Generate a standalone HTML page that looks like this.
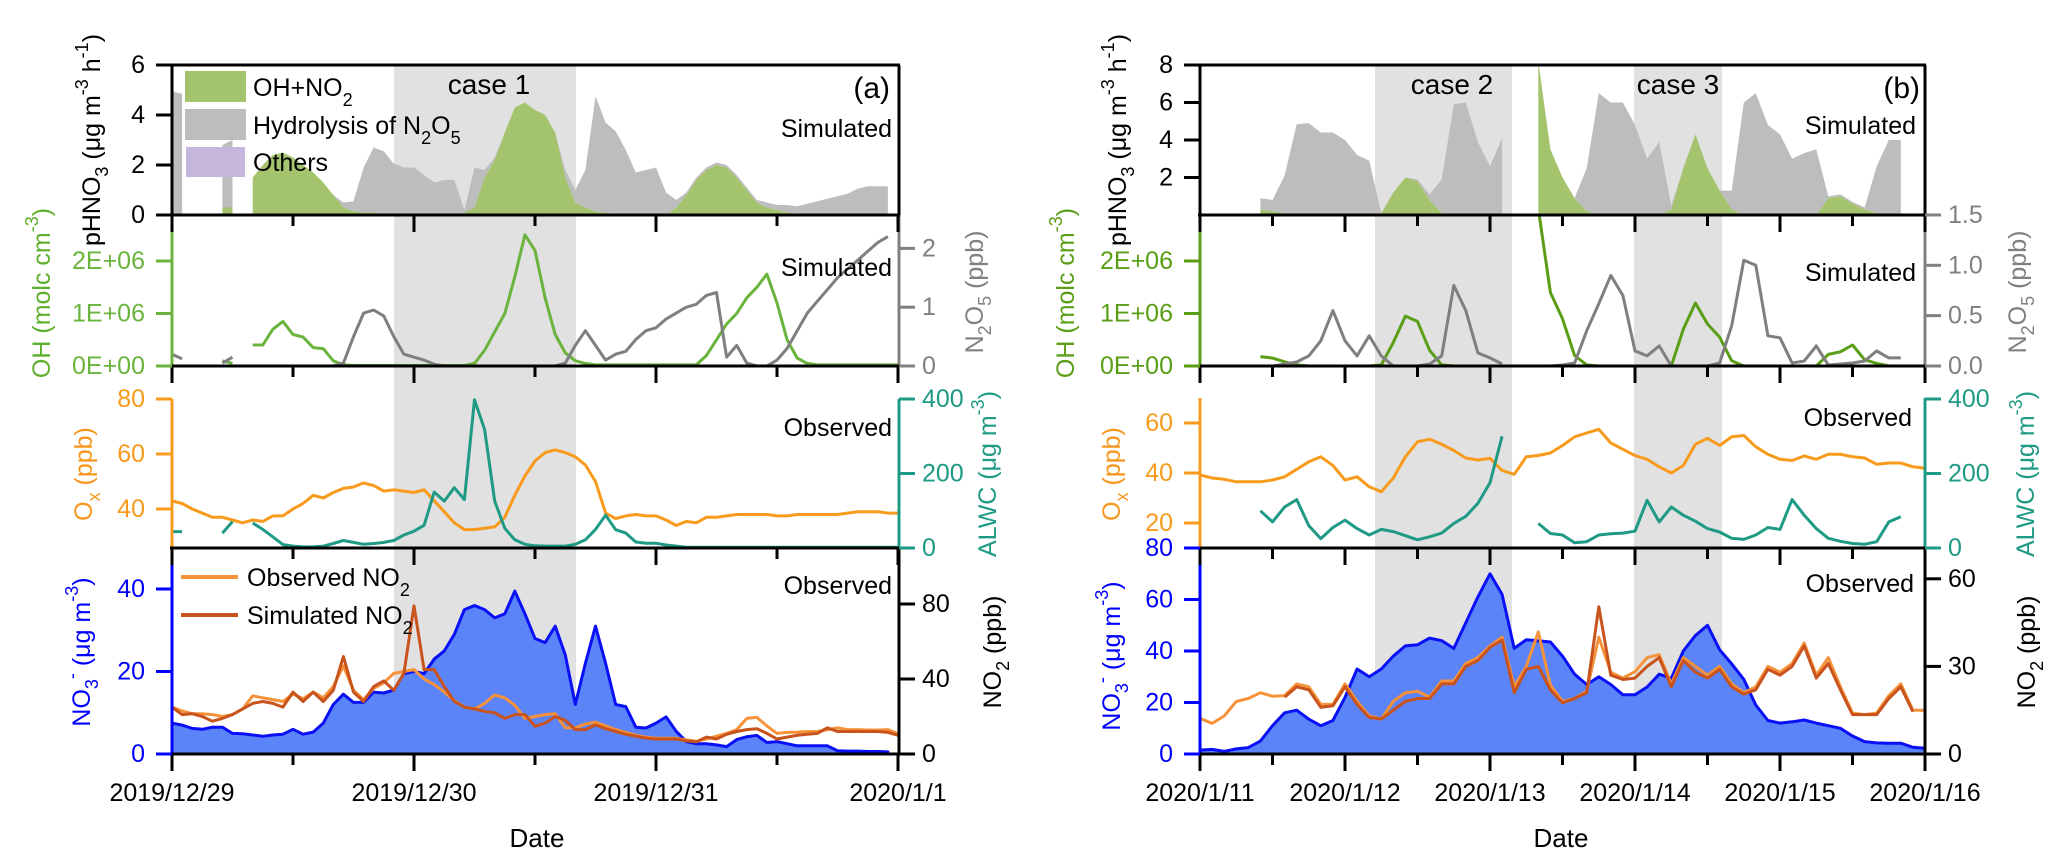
<!DOCTYPE html>
<html><head><meta charset="utf-8"><title>pHNO3 budget and observations</title>
<style>
html,body{margin:0;padding:0;background:#fff;}
svg{display:block;font-family:"Liberation Sans",Arial,sans-serif;}
</style></head>
<body>
<svg id="plot" xmlns="http://www.w3.org/2000/svg" width="2067" height="867" viewBox="0 0 2067 867">
<defs>
<clipPath id="cL1"><rect x="172" y="65" width="727" height="150"/></clipPath>
<clipPath id="cL2"><rect x="172" y="215" width="727" height="151"/></clipPath>
<clipPath id="cL3"><rect x="172" y="366" width="727" height="182"/></clipPath>
<clipPath id="cL4"><rect x="172" y="548" width="727" height="206"/></clipPath>
<clipPath id="cR1"><rect x="1200" y="65" width="726" height="150"/></clipPath>
<clipPath id="cR2"><rect x="1200" y="215" width="726" height="151"/></clipPath>
<clipPath id="cR3"><rect x="1200" y="366" width="726" height="182"/></clipPath>
<clipPath id="cR4"><rect x="1200" y="548" width="726" height="206"/></clipPath>
</defs>
<rect x="394" y="65" width="182" height="689" fill="#e1e1e1"/>
<rect x="1375" y="65" width="137" height="689" fill="#e1e1e1"/>
<rect x="1634" y="65" width="88" height="689" fill="#e1e1e1"/>
<g id="marks"></g>
<g id="axes"></g>
<g font-size="25" fill="#000">
<text x="489" y="94" font-size="28" text-anchor="middle">case 1</text>
<text x="1452" y="94" font-size="28" text-anchor="middle">case 2</text>
<text x="1678" y="94" font-size="28" text-anchor="middle">case 3</text>
<text x="890" y="98" font-size="30" text-anchor="end">(a)</text>
<text x="1920" y="98" font-size="30" text-anchor="end">(b)</text>
<text x="892" y="137" text-anchor="end">Simulated</text>
<text x="892" y="276" text-anchor="end">Simulated</text>
<text x="892" y="436" text-anchor="end">Observed</text>
<text x="892" y="594" text-anchor="end">Observed</text>
<text x="1916" y="134" text-anchor="end">Simulated</text>
<text x="1916" y="281" text-anchor="end">Simulated</text>
<text x="1912" y="426" text-anchor="end">Observed</text>
<text x="1914" y="592" text-anchor="end">Observed</text>

<rect x="185" y="71" width="61" height="31" fill="#a3c46d"/>
<rect x="185" y="109" width="61" height="31" fill="#bdbdbd"/>
<rect x="186" y="147" width="59" height="30" fill="#c5b6dc"/>
<text x="253" y="96">OH+NO<tspan baseline-shift="sub" font-size="18">2</tspan></text>
<text x="253" y="134">Hydrolysis of N<tspan baseline-shift="sub" font-size="18">2</tspan><tspan>O</tspan><tspan baseline-shift="sub" font-size="18">5</tspan></text>
<text x="253" y="171">Others</text>

<line x1="181" y1="577" x2="238" y2="577" stroke="#f5923a" stroke-width="4"/>
<line x1="181" y1="615" x2="238" y2="615" stroke="#c8531c" stroke-width="4"/>
<text x="247" y="586">Observed NO<tspan baseline-shift="sub" font-size="18">2</tspan></text>
<text x="247" y="624">Simulated NO<tspan baseline-shift="sub" font-size="18">2</tspan></text>

<text transform="translate(92,140) rotate(-90)" text-anchor="middle" dominant-baseline="central">pHNO<tspan baseline-shift="sub" font-size="18">3</tspan><tspan> (μg m</tspan><tspan baseline-shift="super" font-size="18">-3</tspan><tspan> h</tspan><tspan baseline-shift="super" font-size="18">-1</tspan><tspan>)</tspan></text>
<text transform="translate(42,293) rotate(-90)" text-anchor="middle" dominant-baseline="central" fill="#5db02d">OH (molc cm<tspan baseline-shift="super" font-size="18">-3</tspan><tspan>)</tspan></text>
<text transform="translate(84,474) rotate(-90)" text-anchor="middle" dominant-baseline="central" fill="#f7961c">O<tspan baseline-shift="sub" font-size="18">x</tspan><tspan> (ppb)</tspan></text>
<text transform="translate(82,652) rotate(-90)" text-anchor="middle" dominant-baseline="central" fill="#0000ff">NO<tspan baseline-shift="sub" font-size="18">3</tspan><tspan baseline-shift="super" font-size="18">-</tspan><tspan> (μg m</tspan><tspan baseline-shift="super" font-size="18">-3</tspan><tspan>)</tspan></text>
<text transform="translate(975,292) rotate(-90)" text-anchor="middle" dominant-baseline="central" fill="#808080">N<tspan baseline-shift="sub" font-size="18">2</tspan><tspan>O</tspan><tspan baseline-shift="sub" font-size="18">5</tspan><tspan> (ppb)</tspan></text>
<text transform="translate(988,474) rotate(-90)" text-anchor="middle" dominant-baseline="central" fill="#1f9a85">ALWC (μg m<tspan baseline-shift="super" font-size="18">-3</tspan><tspan>)</tspan></text>
<text transform="translate(993,652) rotate(-90)" text-anchor="middle" dominant-baseline="central">NO<tspan baseline-shift="sub" font-size="18">2</tspan><tspan> (ppb)</tspan></text>

<text transform="translate(1118,140) rotate(-90)" text-anchor="middle" dominant-baseline="central">pHNO<tspan baseline-shift="sub" font-size="18">3</tspan><tspan> (μg m</tspan><tspan baseline-shift="super" font-size="18">-3</tspan><tspan> h</tspan><tspan baseline-shift="super" font-size="18">-1</tspan><tspan>)</tspan></text>
<text transform="translate(1066,293) rotate(-90)" text-anchor="middle" dominant-baseline="central" fill="#5a9e16">OH (molc cm<tspan baseline-shift="super" font-size="18">-3</tspan><tspan>)</tspan></text>
<text transform="translate(1112,474) rotate(-90)" text-anchor="middle" dominant-baseline="central" fill="#f7961c">O<tspan baseline-shift="sub" font-size="18">x</tspan><tspan> (ppb)</tspan></text>
<text transform="translate(1112,656) rotate(-90)" text-anchor="middle" dominant-baseline="central" fill="#0000ff">NO<tspan baseline-shift="sub" font-size="18">3</tspan><tspan baseline-shift="super" font-size="18">-</tspan><tspan> (μg m</tspan><tspan baseline-shift="super" font-size="18">-3</tspan><tspan>)</tspan></text>
<text transform="translate(2018,292) rotate(-90)" text-anchor="middle" dominant-baseline="central" fill="#808080">N<tspan baseline-shift="sub" font-size="18">2</tspan><tspan>O</tspan><tspan baseline-shift="sub" font-size="18">5</tspan><tspan> (ppb)</tspan></text>
<text transform="translate(2026,474) rotate(-90)" text-anchor="middle" dominant-baseline="central" fill="#1f9a85">ALWC (μg m<tspan baseline-shift="super" font-size="18">-3</tspan><tspan>)</tspan></text>
<text transform="translate(2027,652) rotate(-90)" text-anchor="middle" dominant-baseline="central">NO<tspan baseline-shift="sub" font-size="18">2</tspan><tspan> (ppb)</tspan></text>

<text x="537" y="847" font-size="26" text-anchor="middle">Date</text>
<text x="1561" y="847" font-size="26" text-anchor="middle">Date</text>
</g>
</svg>
<script>
// ---------- data: left panel (a), hourly from 2019/12/29 00:00 ----------
const hoursA = Array.from({length:73}, (_, i) => i);
const dayLabelsA = ["2019/12/29","2019/12/30","2019/12/31","2020/1/1"];
const ohNo2A = [0.05,0.05,null,null,null,0.3,0.3,null,1.5,2.0, 2.4,2.5,2.3,2.0,1.7,1.3,0.8,0.3,0.15,0.1, 0.1,0.05,0.05,0,0,0,0,0,0,0.1, 0.3,1.5,2.2,3.3,4.3,4.5,4.2,4.0,3.3,1.5, 0.5,0.3,0.15,0.1,0.05,0,0,0,0,0, 0.3,0.8,1.4,1.8,2.0,1.9,1.5,1.0,0.5,0.3, 0.2,0.1,0.05,0.05,0.05,0.05,0.05,0.05,0.05,0.05, 0.05,0.05,null];
const hydrolysisA = [4.9,4.8,null,null,null,2.5,2.7,null,0,0, 0,0,0,0,0,0,0,0.2,0.4,1.8, 2.6,2.5,2.0,1.9,1.9,1.6,1.3,1.4,1.4,0.1, 1.6,0.3,0.1,0,0,0,0,0,0,0.3, 0.5,1.5,4.6,3.6,3.3,2.6,1.7,1.8,1.9,0.9, 0.3,0.1,0.1,0.1,0.1,0.1,0.1,0.1,0.1,0.2, 0.2,0.3,0.3,0.4,0.5,0.6,0.7,0.8,1.0,1.1, 1.1,1.1,null];
const ohA = [0,0,null,null,null,0.1,0.05,null,0.4,0.4, 0.7,0.85,0.6,0.55,0.35,0.33,0.1,0.02,0.01,0.01, 0.01,0.01,0.01,0.01,0.01,0.01,0.01,0.01,0.01,0.01, 0.05,0.3,0.65,1.0,1.7,2.5,2.2,1.3,0.6,0.25, 0.1,0.05,0.02,0.02,0.02,0.02,0.02,0.02,0.02,0.02, 0.02,0.02,0.02,0.2,0.5,0.8,1.0,1.3,1.5,1.75, 1.2,0.5,0.15,0.05,0.02,0.02,0.02,0.02,0.02,0.02, 0.02,0.02,0.02];
const n2o5A = [0.2,0.12,null,null,null,0.05,0.15,null,0,0, 0,0,0,0,0,0,0,0.05,0.5,0.9, 0.95,0.85,0.5,0.2,0.15,0.1,0.03,0,0,0, 0,0,0,0,0,0,0,0,0,0.05, 0.35,0.6,0.35,0.1,0.2,0.25,0.45,0.6,0.65,0.8, 0.9,1.0,1.05,1.2,1.25,0.15,0.35,0.05,0,0, 0.1,0.3,0.6,0.9,1.1,1.3,1.5,1.65,1.8,1.95, 2.1,2.2,null];
const oxA = [43,42,40,38.5,37,37,36,35,36,35.5, 37.5,37.5,40,42,45,44,46,47.5,48,49.5, 48.5,46.5,47,46.5,46,47,43,39,35,32.5, 32.5,33,33.5,37,45,52,57.5,60.5,61.5,60.5, 59,56,50,38.5,36.5,37.5,38,37.5,37.5,36, 34,35.5,35,37,37,37.5,38,38,38,38, 37.5,37.5,38,38,38,38,38,38.5,39,39, 39,38.5,38.5];
const alwcA = [44,44,null,null,null,40,71,null,67,50, 30,9,5,3,3,5,12,20,15,10, 12,15,20,35,45,61,150,126,162,130, 398,318,126,53,22,10,6,5,5,5, 10,22,50,88,49,40,16,13,13,8, 5,2,2,2,2,2,2,2,2,2, 2,2,2,2,2,2,2,2,2,2, 2,2,2];
const no3A = [7.5,7,6.2,6,6.5,6.5,5,4.9,4.6,4.3, 4.6,4.8,6,4.8,5.3,7.5,12,14.5,12.5,12.5, 15,14.8,15.5,19.5,20,19.5,23,25,29,35, 36,35,33,34,39.5,34,28,27,31,24, 12,22,31,22,12,11.5,6.5,6.3,7.5,9, 5.5,3,2.5,2.5,2.2,1.8,3.5,4.2,4.5,2.8, 3,2.5,2,2,2,2,0.8,0.7,0.7,0.6, 0.6,0.5,null];
const no2ObsA = [25,23,21.5,21.5,21,20,21,24,31,30, 29,28,32,29.5,33,30,36,47,34,29, 35,38,43,44,45,40,37,33,28.5,25, 24,27,31.5,30,26,19,20,21,21.5,14, 14,16,17,15,13,11.5,10,9,8.4,8.4, 8.4,7.5,6.7,8,9.5,11,13,19,19.5,15, 11,11.5,11.7,12,12,13,14,13,13,12.8, 12.8,13,10.8];
const no2SimA = [25,21,21.5,20,17.5,19,21,24,27,28, 27,25,33,28,33,28,34,52,33,28, 36,39,34,43,79,45,45,36,28,25, 24,22.8,22,19,21,21,14.8,16.5,20,18, 13,13,15.5,13.5,12,10.5,9.5,8.5,8,8, 8,7,6.5,9,8,10.5,12,13,13.5,11, 8,9,10,10.5,11,14,12,12,12,12, 12,11.5,10];

// ---------- data: right panel (b), 2-hourly from 2020/1/11 00:00 ----------
const hoursB = Array.from({length:61}, (_, i) => i * 2);
const dayLabelsB = ["2020/1/11","2020/1/12","2020/1/13","2020/1/14","2020/1/15","2020/1/16"];
const ohNo2B = [null,null,null,null,null,0.3,0.2,0.1,0.05,0, 0,0,0,0,0,0.1,1.2,2.0,1.8,0.8, 0.1,0,0,0,0,0,null,null,8.2,3.5, 2.0,0.9,0.2,0,0,0,0,0,0,0.3, 2.5,4.3,2.5,1.3,0.3,0,0,0,0,0, 0,0,0.9,1.0,0.6,0.3,0.1,0,0,null, null];
const hydrolysisB = [null,null,null,null,null,0.6,0.6,2.0,4.8,4.9, 4.4,4.4,4.0,3.2,2.9,0,0,0,0.1,0.3, 1.8,5.9,6.0,3.9,2.6,4.1,null,null,0,0, 0,0,2.3,6.5,6.0,6.0,4.8,3.0,3.9,0.2, 0,0,0,0,1.0,6.0,6.5,4.8,4.3,3.0, 3.3,3.5,0.1,0.1,0.1,0.1,2.5,4.0,4.0,null, null];
const ohB = [null,null,null,null,null,0.18,0.15,0.08,0.02,0, 0,0,0,0,0,0.02,0.45,0.95,0.85,0.3, 0.02,0,0,0,0,0,null,null,3.0,1.4, 0.9,0.2,0.02,0,0,0,0,0,0,0, 0.7,1.2,0.8,0.55,0.1,0,0,0,0,0, 0,0,0.22,0.27,0.4,0.12,0.05,0,0,null, null];
const n2o5B = [null,null,null,null,null,0,0,0.02,0.04,0.1, 0.25,0.55,0.25,0.1,0.3,0.1,0,0,0,0.02, 0.1,0.8,0.55,0.13,0.08,0.02,null,null,0,0, 0.01,0.03,0.35,0.62,0.9,0.7,0.15,0.1,0.2,0, 0,0,0,0.03,0.4,1.05,1.0,0.3,0.28,0.03, 0.05,0.2,0.01,0.02,0.03,0.05,0.15,0.08,0.08,null, null];
const oxB = [39.2,38,37.5,36.5,36.5,36.5,37.2,38.5,41.5,44.5, 46.5,43,37.2,38.5,34.5,32.5,38,46.5,52.5,53.5, 51.5,49,46,45.2,45.9,41,39.5,46.5,47,48, 51,54.5,56,57.5,52,49.5,47,45.5,42.5,40, 43,51.5,53.9,51,54.5,55,50.5,47.5,45.5,45, 46.8,45.5,47.5,47.5,46.5,46,43.5,44,44,42.5, 41.9];
const alwcB = [null,null,null,null,null,100,70,110,130,60, 25,55,75,52,35,50,44,33,22,30, 40,66,85,120,175,300,null,null,66,39, 35,14,17,35,38,40,45,128,70,110, 88,72,52,43,26,23,35,55,50,130, 88,52,26,18,12,10,17,70,84,null, null];
const no3B = [1.5,1.8,1,2,2.5,5,11,16,17,13.5, 11,13,22,33,30,33,38,42,42.4,45, 44,41,51,61,70,62,41,44.4,44,43.5, 38,31,27,30,27,23,23,26,31,29.4, 40,46,50,40.5,35,29,19,13,12,12.5, 13.2,12,11,10,7,4.8,4.3,4.2,4.2,2.6, 2.2];
const no2ObsB = [12.2,10.5,13,18,19,21,19.8,20,24,23, 17,17,24,18,13,12,18,21,21.5,19.5, 25,25,31,33,37,40,23,30,41.8,23.6, 18,19,21.5,40,28,26,28.2,33,34,24, 33,30,27,30,24,21,23,30,28,31, 38,27,33,23,14,13.5,14,20,24,15, 15];
const no2SimB = [null,null,null,null,null,null,null,19.5,23,22, 16,16.5,23,17,12.5,12,15,18,19,19, 24,24,30,32,36.5,39,21,29,30,22, 17.5,19,21,50.4,27,25.5,26,30,33,23, 32,28,26,29,23,20.5,22,29,27,30, 37,26,31,22,13.5,13.5,13.5,19,23,14.5, null];

// ---------- tick arrays ----------
const p1TicksA = [0,2,4,6];
const p1TicksB = [2,4,6,8];
const ohTicks = [0,1,2];
const ohTickLabels = ["0E+00","1E+06","2E+06"];
const n2o5TicksA = [0,1,2];
const n2o5TicksB = [0,0.5,1,1.5];
const n2o5TickLabelsB = ["0.0","0.5","1.0","1.5"];
const oxTicksA = [40,60,80];
const oxTicksB = [20,40,60];
const alwcTicks = [0,200,400];
const no3TicksA = [0,20,40];
const no3TicksB = [0,20,40,60,80];
const no2TicksA = [0,40,80];
const no2TicksB = [0,30,60];

// ---------- scales ----------
const xA = h => 172 + h * 242 / 24;
const xB = h => 1200 + h * 145 / 24;
const yP1A = v => 215 - v * 25;
const yP1B = v => 215 - v * 18.75;
const yOH = v => 366 - v * 52.5;
const yN2O5A = v => 366 - v * 58.8;
const yN2O5B = v => 366 - v * 100.7;
const yOxA = v => 509 - (v - 40) * 2.75;
const yOxB = v => 548 - (v - 10) * 2.5;
const yAlwc = v => 548 - v * 0.3725;
const yNO3A = v => 754 - v * 4.125;
const yNO3B = v => 754 - v * 2.575;
const yNO2A = v => 754 - v * 1.875;
const yNO2B = v => 754 - v * 2.92;

const NS = "http://www.w3.org/2000/svg";
const marks = document.getElementById('marks');
const axes = document.getElementById('axes');
function mk(tag, attrs, parent) {
  const e = document.createElementNS(NS, tag);
  for (const k in attrs) e.setAttribute(k, attrs[k]);
  parent.appendChild(e);
  return e;
}

function lineD(hours, vals, fx, fy) {
  let d = '', pen = false;
  for (let i = 0; i < vals.length; i++) {
    if (vals[i] === null || vals[i] === undefined) { pen = false; continue; }
    d += (pen ? 'L' : 'M') + fx(hours[i]).toFixed(1) + ',' + fy(vals[i]).toFixed(1);
    pen = true;
  }
  return d;
}
function areaD(hours, lower, upper, fx, fy) {
  let d = '', seg = [];
  const flush = () => {
    if (seg.length) {
      let s = '';
      seg.forEach((i, k) => { s += (k ? 'L' : 'M') + fx(hours[i]).toFixed(1) + ',' + fy(upper[i]).toFixed(1); });
      for (let k = seg.length - 1; k >= 0; k--) { const i = seg[k]; s += 'L' + fx(hours[i]).toFixed(1) + ',' + fy(lower ? lower[i] : 0).toFixed(1); }
      d += s + 'Z';
    }
    seg = [];
  };
  for (let i = 0; i < upper.length; i++) {
    if (upper[i] === null || upper[i] === undefined) flush(); else seg.push(i);
  }
  flush();
  return d;
}
function stack(a, b) { return a.map((v, i) => (v === null || b[i] === null) ? null : v + b[i]); }

function drawArea(name, hours, lower, upper, fx, fy, fill, clip, stroke) {
  const p = mk('path', {d: areaD(hours, lower, upper, fx, fy), fill: fill, stroke: stroke || 'none', 'stroke-width': stroke ? 3 : 0, 'stroke-linejoin': 'round', 'clip-path': 'url(#' + clip + ')'}, marks);
  
  
}
function drawLine(name, hours, vals, fx, fy, color, clip) {
  const p = mk('path', {d: lineD(hours, vals, fx, fy), fill: 'none', stroke: color, 'stroke-width': 3, 'stroke-linejoin': 'round', 'clip-path': 'url(#' + clip + ')'}, marks);
  
  
}

// ---------- panel (a) marks ----------
drawArea('area-oh-no2-a', hoursA, null, ohNo2A, xA, yP1A, '#a3c46d', 'cL1');
drawArea('area-hydrolysis-a', hoursA, ohNo2A, stack(ohNo2A, hydrolysisA), xA, yP1A, '#bdbdbd', 'cL1');
drawLine('line-oh-a', hoursA, ohA, xA, yOH, '#6ab43d', 'cL2');
drawLine('line-n2o5-a', hoursA, n2o5A, xA, yN2O5A, '#7f7f7f', 'cL2');
drawLine('line-ox-a', hoursA, oxA, xA, yOxA, '#f89b1c', 'cL3');
drawLine('line-alwc-a', hoursA, alwcA, xA, yAlwc, '#1f9a85', 'cL3');
drawArea('area-no3-a', hoursA, null, no3A, xA, yNO3A, '#5b84f8', 'cL4', '#0a10f5');
drawLine('line-no2-observed-a', hoursA, no2ObsA, xA, yNO2A, '#f5923a', 'cL4');
drawLine('line-no2-simulated-a', hoursA, no2SimA, xA, yNO2A, '#c8531c', 'cL4');

// ---------- panel (b) marks ----------
drawArea('area-oh-no2-b', hoursB, null, ohNo2B, xB, yP1B, '#a3c46d', 'cR1');
drawArea('area-hydrolysis-b', hoursB, ohNo2B, stack(ohNo2B, hydrolysisB), xB, yP1B, '#bdbdbd', 'cR1');
drawLine('line-oh-b', hoursB, ohB, xB, yOH, '#5a9e16', 'cR2');
drawLine('line-n2o5-b', hoursB, n2o5B, xB, yN2O5B, '#7f7f7f', 'cR2');
drawLine('line-ox-b', hoursB, oxB, xB, yOxB, '#f89b1c', 'cR3');
drawLine('line-alwc-b', hoursB, alwcB, xB, yAlwc, '#1f9a85', 'cR3');
drawArea('area-no3-b', hoursB, null, no3B, xB, yNO3B, '#5b84f8', 'cR4', '#0a10f5');
drawLine('line-no2-observed-b', hoursB, no2ObsB, xB, yNO2B, '#f5923a', 'cR4');
drawLine('line-no2-simulated-b', hoursB, no2SimB, xB, yNO2B, '#c8531c', 'cR4');

// ---------- axes ----------
function spine(name, x1, y1, x2, y2, color) {
  const l = mk('line', {x1: x1, y1: y1, x2: x2, y2: y2, stroke: color, 'stroke-width': 3}, axes);
  
  
}
function yAxis(name, x, side, vals, labels, fy, color) {
  vals.forEach((v, i) => {
    const y = fy(v);
    const t = mk('line', {x1: x, y1: y, x2: x + (side === 'left' ? -16 : 16), y2: y, stroke: color, 'stroke-width': 3}, axes);
    
    
    const tx = mk('text', {x: side === 'left' ? x - 27 : x + 23, y: y, 'text-anchor': side === 'left' ? 'end' : 'start', 'dominant-baseline': 'central', 'font-size': 25, fill: color}, axes);
    tx.textContent = labels ? labels[i] : String(v);
    
    
  });
}
function xTicks(name, fx, nDays, yBase) {
  for (let h = 0; h <= nDays * 24; h += 12) {
    const major = h % 24 === 0;
    const t = mk('line', {x1: fx(h), y1: yBase, x2: fx(h), y2: yBase + (major ? 17 : 11), stroke: '#000', 'stroke-width': 3}, axes);
    
    
  }
}
function xLabels(name, fx, labels) {
  labels.forEach((lab, i) => {
    const t = mk('text', {x: fx(i * 24), y: 793, 'text-anchor': 'middle', 'dominant-baseline': 'central', 'font-size': 25, fill: '#000'}, axes);
    t.textContent = lab;
    
    
  });
}

// panel frames (a)
spine('frame-top-a', 170, 65, 900, 65, '#000');
spine('frame-right-p1-a', 899, 65, 899, 215, '#000');
spine('left-axis-p1-a', 172, 65, 172, 215, '#000');
spine('left-axis-p2-a', 172, 215, 172, 366, '#6ab43d');
spine('left-axis-p3-a', 172, 399, 172, 548, '#f89b1c');
spine('left-axis-p4-a', 172, 548, 172, 754, '#0000ff');
spine('right-axis-p2-a', 899, 215, 899, 366, '#808080');
spine('right-axis-p3-a', 899, 399, 899, 548, '#1f9a85');
spine('right-axis-p4-a', 899, 548, 899, 754, '#000');
[215, 366, 548, 754].forEach(y => { spine('panel-baseline-a', 170, y, 900, y, '#000'); xTicks('x-tick-a', xA, 3, y); });
xLabels('x-tick-label-a', xA, dayLabelsA);
yAxis('phno3-axis-a', 172, 'left', p1TicksA, null, yP1A, '#000');
yAxis('oh-axis-a', 172, 'left', ohTicks, ohTickLabels, yOH, '#6ab43d');
yAxis('n2o5-axis-a', 899, 'right', n2o5TicksA, null, yN2O5A, '#808080');
yAxis('ox-axis-a', 172, 'left', oxTicksA, null, yOxA, '#f89b1c');
yAxis('alwc-axis-a', 899, 'right', alwcTicks, null, yAlwc, '#1f9a85');
yAxis('no3-axis-a', 172, 'left', no3TicksA, null, yNO3A, '#0000ff');
yAxis('no2-axis-a', 899, 'right', no2TicksA, null, yNO2A, '#000');

// panel frames (b)
spine('frame-top-b', 1198, 65, 1926, 65, '#000');
spine('frame-right-p1-b', 1925, 65, 1925, 215, '#000');
spine('left-axis-p1-b', 1200, 65, 1200, 215, '#000');
spine('left-axis-p2-b', 1200, 215, 1200, 366, '#5a9e16');
spine('left-axis-p3-b', 1200, 398, 1200, 548, '#f89b1c');
spine('left-axis-p4-b', 1200, 548, 1200, 754, '#0000ff');
spine('right-axis-p2-b', 1925, 215, 1925, 366, '#808080');
spine('right-axis-p3-b', 1925, 398, 1925, 548, '#1f9a85');
spine('right-axis-p4-b', 1925, 548, 1925, 754, '#000');
[215, 366, 548, 754].forEach(y => { spine('panel-baseline-b', 1198, y, 1926, y, '#000'); xTicks('x-tick-b', xB, 5, y); });
xLabels('x-tick-label-b', xB, dayLabelsB);
yAxis('phno3-axis-b', 1200, 'left', p1TicksB, null, yP1B, '#000');
yAxis('oh-axis-b', 1200, 'left', ohTicks, ohTickLabels, yOH, '#5a9e16');
yAxis('n2o5-axis-b', 1925, 'right', n2o5TicksB, n2o5TickLabelsB, yN2O5B, '#808080');
yAxis('ox-axis-b', 1200, 'left', oxTicksB, null, yOxB, '#f89b1c');
yAxis('alwc-axis-b', 1925, 'right', alwcTicks, null, yAlwc, '#1f9a85');
yAxis('no3-axis-b', 1200, 'left', no3TicksB, null, yNO3B, '#0000ff');
yAxis('no2-axis-b', 1925, 'right', no2TicksB, null, yNO2B, '#000');
</script>
</body></html>
